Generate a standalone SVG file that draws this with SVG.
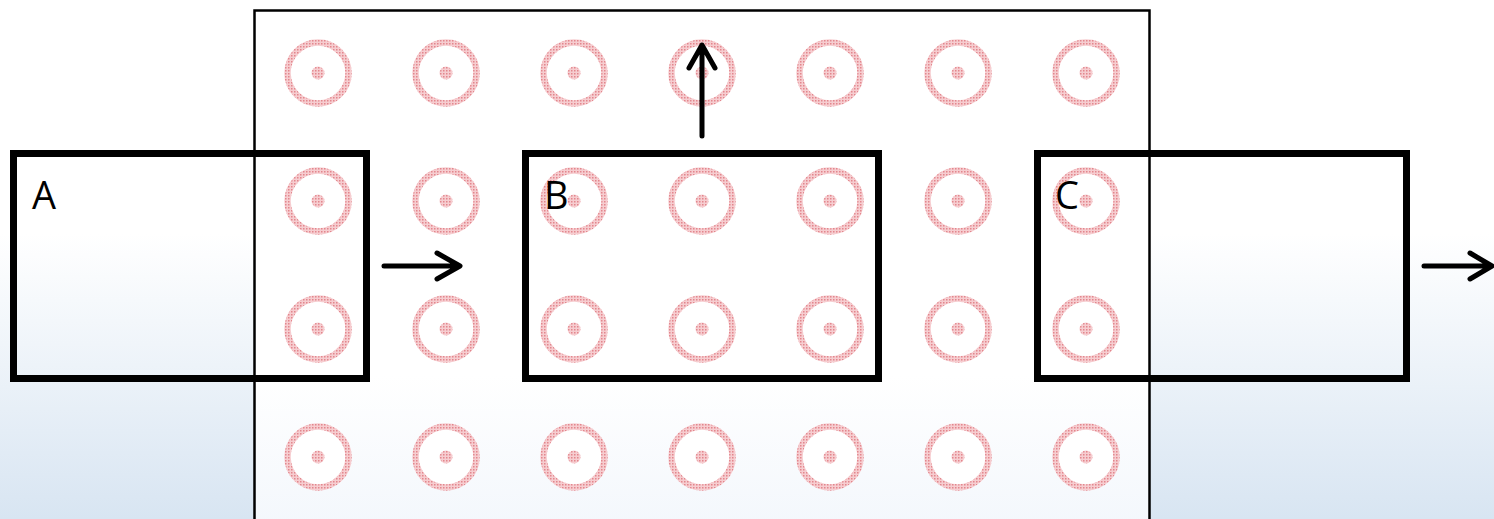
<svg xmlns="http://www.w3.org/2000/svg" width="1494" height="519" viewBox="0 0 1494 519">
<defs>
<linearGradient id="bg" x1="0" y1="0" x2="0" y2="1">
<stop offset="0" stop-color="#ffffff"/>
<stop offset="0.45" stop-color="#ffffff"/>
<stop offset="1" stop-color="#d8e5f2"/>
</linearGradient>
<linearGradient id="panel" x1="0" y1="0" x2="0" y2="1">
<stop offset="0" stop-color="#ffffff"/>
<stop offset="0.7" stop-color="#ffffff"/>
<stop offset="1" stop-color="#f3f7fc"/>
</linearGradient>
<pattern id="dots" width="3" height="3" patternUnits="userSpaceOnUse">
<rect width="3" height="3" fill="#f6cdd0"/>
<rect width="1.5" height="1.5" fill="#e3868d"/>
</pattern>
<g id="coil">
<circle r="30.5" fill="#ffffff" stroke="url(#dots)" stroke-width="6.5"/>
<circle r="6.5" fill="url(#dots)"/>
</g>
</defs>
<style>
.box{fill:none;stroke:#000;stroke-width:7}
.lbl{font-family:"Open Sans","Liberation Sans",sans-serif;font-size:38px;fill:#000}
.arr{fill:none;stroke:#000;stroke-width:5;stroke-linecap:round;stroke-linejoin:round}
</style>
<rect width="1494" height="519" fill="url(#bg)"/>
<rect id="panel-rect" x="254.5" y="10.5" width="895" height="520" fill="url(#panel)" stroke="#000" stroke-width="2.5"/>
<g id="coils">
<use href="#coil" x="318" y="73"/><use href="#coil" x="446" y="73"/><use href="#coil" x="574" y="73"/><use href="#coil" x="702" y="73"/><use href="#coil" x="830" y="73"/><use href="#coil" x="958" y="73"/><use href="#coil" x="1086" y="73"/>
<use href="#coil" x="318" y="201"/><use href="#coil" x="446" y="201"/><use href="#coil" x="574" y="201"/><use href="#coil" x="702" y="201"/><use href="#coil" x="830" y="201"/><use href="#coil" x="958" y="201"/><use href="#coil" x="1086" y="201"/>
<use href="#coil" x="318" y="329"/><use href="#coil" x="446" y="329"/><use href="#coil" x="574" y="329"/><use href="#coil" x="702" y="329"/><use href="#coil" x="830" y="329"/><use href="#coil" x="958" y="329"/><use href="#coil" x="1086" y="329"/>
<use href="#coil" x="318" y="457"/><use href="#coil" x="446" y="457"/><use href="#coil" x="574" y="457"/><use href="#coil" x="702" y="457"/><use href="#coil" x="830" y="457"/><use href="#coil" x="958" y="457"/><use href="#coil" x="1086" y="457"/>
</g>
<g id="A"><rect class="box" x="13.5" y="153.5" width="353" height="225"/><text class="lbl" x="32" y="209">A</text></g>
<g id="B"><rect class="box" x="525.5" y="153.5" width="353" height="225"/><text class="lbl" x="544" y="209">B</text></g>
<g id="C"><rect class="box" x="1037.5" y="153.5" width="369" height="225"/><text class="lbl" x="1055" y="209">C</text></g>
<g id="connectors">
<path class="arr" d="M384 266H459M437 253L460 266L437 279"/>
<path class="arr" d="M702 136V46M689 68L702 45L715 68"/>
<path class="arr" d="M1424 266H1492M1470 253L1492 266L1470 279"/>
</g>
</svg>
